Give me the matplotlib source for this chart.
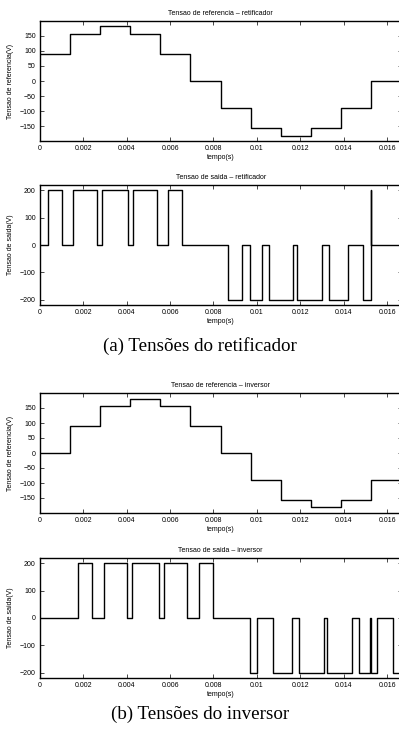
import numpy as np
import matplotlib
matplotlib.use('Agg')
import matplotlib.pyplot as plt

# step instants of the reference signals (s)
t_ref = [0, 0.00139, 0.00278, 0.00417, 0.00556, 0.00694, 0.00833,
         0.00972, 0.01111, 0.0125, 0.01389, 0.01528, 1/60]
# reference voltage levels (V)
v_ref_ret = [90, 156, 180, 156, 90, 0, -90, -156, -180, -156, -90, 0, 0]
v_ref_inv = [0, 90, 156, 180, 156, 90, 0, -90, -156, -180, -156, -90, -90]

# output voltage switching instants / levels - retificador
t_out_ret = [0, 0.00039, 0.00101, 0.00154, 0.00262, 0.00285, 0.00408, 0.00431,
             0.00539, 0.00593, 0.00654, 0.00869, 0.00932, 0.00969, 0.01023,
             0.01054, 0.01168, 0.01184, 0.01301, 0.01333, 0.01418, 0.01491,
             0.01525, 0.01528, 1/60]
v_out_ret = [0, 200, 0, 200, 0, 200, 0, 200, 0, 200, 0, -200, 0, -200, 0,
             -200, 0, -200, 0, -200, 0, -200, 200, 0, 0]

# output voltage switching instants / levels - inversor
t_out_inv = [0, 0.00177, 0.00242, 0.00296, 0.00400, 0.00426, 0.00548, 0.00571,
             0.00679, 0.00732, 0.00796, 0.00969, 0.00999, 0.01076, 0.01164,
             0.01194, 0.01309, 0.01325, 0.01440, 0.01471, 0.01522, 0.01525,
             0.01555, 0.01626, 1/60]
v_out_inv = [0, 200, 0, 200, 0, 200, 0, 200, 0, 200, 0, -200, 0, -200, 0,
             -200, 0, -200, 0, -200, 0, -200, 0, -200, -200]

xticks = [0, 0.002, 0.004, 0.006, 0.008, 0.01, 0.012, 0.014, 0.016]
xticklabels = ['0', '0.002', '0.004', '0.006', '0.008', '0.01', '0.012', '0.014', '0.016']
yticks_ref = [-150, -100, -50, 0, 50, 100, 150]
yticks_out = [-200, -100, 0, 100, 200]

plt.rcParams['font.family'] = ['Liberation Sans', 'DejaVu Sans']
fig = plt.figure(figsize=(3.99, 7.36), dpi=100)

W, H = 399., 736.
left, right = 39.8, 401.5
# (top, bottom) of each axes in pixels
boxes = [(21, 141), (185, 305), (393, 513), (558, 678)]
panels = [
    (t_ref, v_ref_ret, 'Tensao de referencia \u2013 retificador', 'Tensao de referencia(V)', yticks_ref, 198),
    (t_out_ret, v_out_ret, 'Tensao de saida \u2013 retificador', 'Tensao de saida(V)', yticks_out, 220),
    (t_ref, v_ref_inv, 'Tensao de referencia \u2013 inversor', 'Tensao de referencia(V)', yticks_ref, 200),
    (t_out_inv, v_out_inv, 'Tensao de saida \u2013 inversor', 'Tensao de saida(V)', yticks_out, 220),
]

for (top, bot), (t, v, title, ylab, yt, ylim) in zip(boxes, panels):
    ax = fig.add_axes([left / W, 1 - bot / H, (right - left) / W, (bot - top) / H])
    ax.step(t, v, where='post', color='black', lw=1.0)
    ax.set_xlim(0, 1/60)
    ax.set_ylim(-ylim, ylim)
    ax.set_xticks(xticks)
    ax.set_xticklabels(xticklabels)
    ax.set_yticks(yt)
    ax.tick_params(direction='in', top=True, right=True, length=2.6, width=0.5,
                   labelsize=5, pad=3)
    for s in ax.spines.values():
        s.set_linewidth(1.0)
    ax.set_title(title, fontsize=5, pad=4)
    ax.set_xlabel('tempo(s)', fontsize=5, labelpad=1.5)
    ax.set_ylabel(ylab, fontsize=5)
    ax.yaxis.set_label_coords(-0.071, 0.5)

fig.text(200 / W, 1 - 346 / H, '(a) Tens\u00f5es do retificador', ha='center', va='center',
         fontsize=13.7, family='Liberation Serif')
fig.text(200 / W, 1 - 714 / H, '(b) Tens\u00f5es do inversor', ha='center', va='center',
         fontsize=13.7, family='Liberation Serif')

fig.savefig('out.png', dpi=100)
